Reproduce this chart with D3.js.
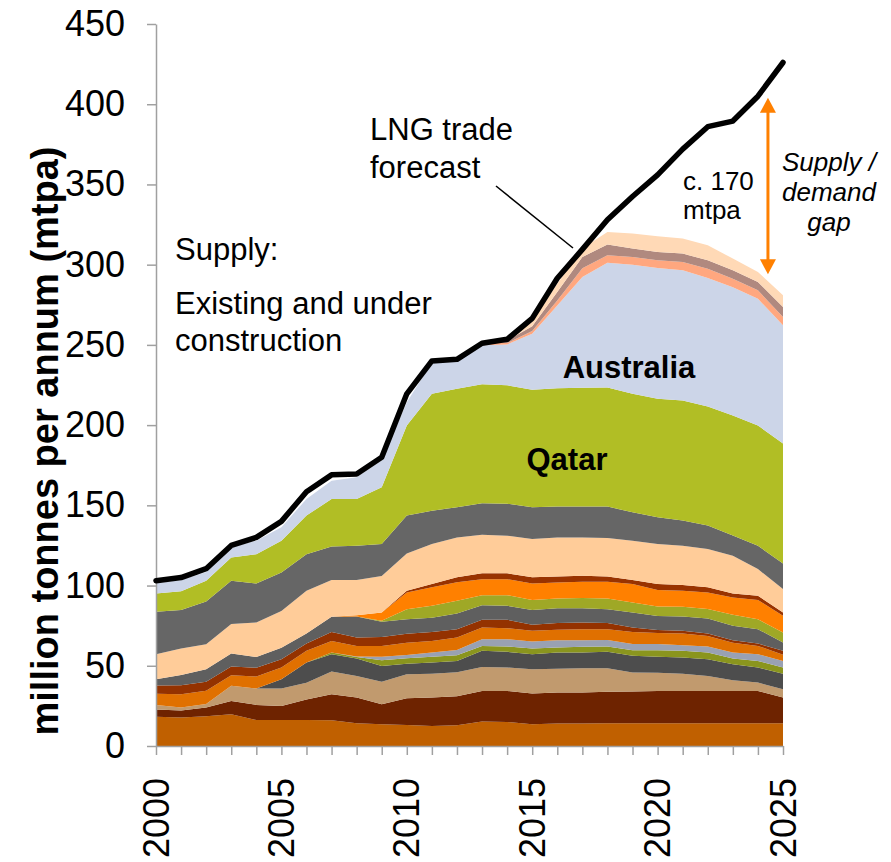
<!DOCTYPE html>
<html>
<head>
<meta charset="utf-8">
<script src="https://cdn.jsdelivr.net/npm/d3@7"></script>
<style>
  body { margin: 0; background: #fff; }
  svg { display: block; font-family: "Liberation Sans", Arial, sans-serif; }
</style>
</head>
<body>
<svg id="chart" width="891" height="862"></svg>
<script>
// years on the x axis
const years = [2000, 2001, 2002, 2003, 2004, 2005, 2006, 2007, 2008, 2009, 2010, 2011, 2012,
  2013, 2014, 2015, 2016, 2017, 2018, 2019, 2020, 2021, 2022, 2023, 2024, 2025];
const yTicks = [0, 50, 100, 150, 200, 250, 300, 350, 400, 450];
const xLabels = [2000, 2005, 2010, 2015, 2020, 2025];

// supply layers, bottom to top (mtpa)
const layer01 = [18.3, 17.7, 18.5, 19.8, 16.2, 16.2, 16.2, 16.0, 14.2, 13.5, 13.1, 12.5, 13.0, 15.2, 15.0, 13.6, 14.0, 14.0, 14.2, 14.2, 14.2, 14.2, 14.2, 14.2, 14.2, 14.2];
const layer02 = [4.4, 4.5, 5.5, 8.3, 9.4, 8.8, 12.8, 16.2, 16.0, 12.5, 16.6, 17.7, 18.0, 19.1, 19.3, 19.1, 19.4, 19.4, 19.6, 19.8, 20.1, 20.1, 20.1, 20.1, 20.1, 16.0];
const layer03 = [2.9, 1.8, 2.1, 9.4, 10.2, 10.8, 10.4, 14.2, 13.5, 14.0, 15.0, 14.9, 14.9, 15.0, 14.6, 15.1, 14.7, 15.1, 14.7, 11.8, 11.3, 10.8, 9.4, 6.7, 5.2, 5.1];
const layer04 = [0, 0, 0, 0, 0, 5.8, 12.6, 10.8, 10.8, 9.9, 6.6, 6.9, 7.1, 10.0, 9.8, 9.4, 10.1, 9.7, 10.2, 10.4, 10.0, 10.0, 10.3, 10.0, 9.4, 9.8];
const layer05 = [0, 0, 0, 0, 0, 0, 0, 1.0, 1.0, 3.6, 3.4, 3.6, 3.6, 3.1, 3.3, 3.5, 3.2, 3.6, 3.3, 3.5, 4.1, 4.2, 4.2, 3.5, 4.1, 3.8];
const layer06 = [0, 0, 0, 0, 0, 0, 0, 0, 0.3, 2.1, 2.0, 2.7, 3.3, 4.2, 4.6, 4.4, 4.5, 4.1, 4.0, 3.8, 3.8, 3.5, 3.8, 3.7, 4.2, 4.1];
const layer07 = [7.0, 8.3, 8.3, 6.6, 7.5, 7.3, 7.3, 7.3, 6.6, 6.8, 7.7, 7.2, 7.7, 7.2, 6.8, 6.7, 6.5, 6.9, 6.8, 7.6, 7.0, 7.3, 6.6, 6.2, 5.2, 3.8];
const layer08 = [5.1, 5.6, 5.7, 5.5, 5.5, 5.1, 4.6, 5.6, 5.2, 5.6, 5.6, 5.6, 5.2, 4.9, 5.3, 3.7, 4.2, 4.2, 3.8, 2.7, 1.8, 1.7, 1.5, 1.5, 1.5, 2.5];
const layer09 = [3.9, 6.4, 7.8, 8.1, 6.7, 7.3, 6.2, 9.4, 13.1, 9.4, 9.0, 8.9, 9.8, 9.1, 8.7, 9.2, 9.3, 8.9, 8.7, 9.4, 8.8, 8.9, 9.4, 9.0, 8.9, 5.2];
const layer10 = [0, 0, 0, 0, 0, 0, 0, 0, 0, 0.6, 6.3, 7.4, 7.9, 6.2, 6.6, 6.3, 6.1, 6.3, 6.7, 6.3, 5.9, 6.1, 5.9, 6.9, 6.2, 6.3];
const layer11 = [0, 0, 0, 0, 0, 0, 0, 0, 0.8, 5.2, 10.4, 11.5, 11.5, 10.0, 10.0, 10.3, 9.9, 10.1, 10.3, 11.4, 10.2, 9.9, 10.3, 10.8, 12.0, 10.4];
const layer12 = [0, 0, 0, 0, 0, 0, 0, 0, 0, 0, 1.0, 2.1, 3.1, 3.6, 3.6, 3.8, 3.8, 3.8, 3.4, 2.5, 3.7, 3.6, 3.2, 2.5, 2.6, 2.0];
const layer13 = [15.6, 16.4, 15.5, 18.3, 21.5, 22.9, 26.7, 22.9, 21.9, 22.8, 23.3, 24.9, 24.9, 24.1, 23.5, 23.9, 24.3, 23.9, 23.9, 24.6, 25.0, 24.5, 23.9, 23.5, 16.7, 14.6];
const layer14 = [26.4, 24.0, 26.6, 27.0, 24.3, 24.0, 22.7, 21.0, 21.4, 19.9, 23.6, 20.8, 18.8, 19.6, 19.9, 19.8, 19.2, 19.2, 19.6, 17.7, 16.7, 15.7, 14.6, 12.6, 14.5, 16.0];
const qatar = [11.5, 11.7, 13.0, 14.5, 18.2, 19.8, 24.1, 29.6, 29.2, 35.4, 56.2, 72.8, 73.8, 74.2, 73.8, 73.2, 73.8, 74.1, 74.3, 73.8, 73.8, 74.9, 74.2, 74.8, 75.0, 74.7];
const australia = [6.4, 7.1, 5.5, 6.3, 8.5, 8.3, 10.4, 11.4, 13.5, 16.7, 14.5, 19.5, 18.1, 24.2, 25.5, 35.0, 51.6, 69.0, 77.7, 80.5, 81.6, 81.1, 80.1, 80.0, 79.0, 73.7];
const layer17 = [0, 0, 0, 0, 0, 0, 0, 0, 0, 0, 0, 0, 1.7, 2.0, 0.8, 1.7, 3.1, 5.5, 4.7, 4.8, 4.7, 5.2, 5.8, 5.3, 5.2, 5.2];
const layer18 = [0, 0, 0, 0, 0, 0, 0, 0, 0, 0, 0, 0, 0, 0.3, 1.7, 2.9, 5.2, 7.0, 6.6, 5.2, 5.2, 5.2, 5.2, 5.2, 5.2, 6.2];
const layer19 = [0, 0, 0, 0, 0, 0, 0, 0, 0, 0, 0, 0, 0, 0.5, 0.8, 2.7, 5.2, 5.5, 7.9, 9.4, 9.8, 9.4, 9.4, 7.3, 6.3, 7.3];

// LNG trade forecast (demand line)
const lngTrade = [103, 105, 110.5, 125, 130, 140, 158.5, 169, 169.5, 180, 219.5, 240, 241, 251, 253.5,
  266.5, 291.5, 309.5, 328, 342.5, 356, 372, 386, 389.5, 405, 426];

// supply / demand gap arrow
const gapYear = 2024.4;
const gapTop = 404;
const gapBottom = 294;

const layers = [
  { key: 'layer01', values: layer01, color: '#C06000' },
  { key: 'layer02', values: layer02, color: '#6E2300' },
  { key: 'layer03', values: layer03, color: '#C19A6E' },
  { key: 'layer04', values: layer04, color: '#4D4D4D' },
  { key: 'layer05', values: layer05, color: '#8A951E' },
  { key: 'layer06', values: layer06, color: '#99A1B3' },
  { key: 'layer07', values: layer07, color: '#E07000' },
  { key: 'layer08', values: layer08, color: '#943200' },
  { key: 'layer09', values: layer09, color: '#5F5F5F' },
  { key: 'layer10', values: layer10, color: '#9FA826' },
  { key: 'layer11', values: layer11, color: '#FF8000' },
  { key: 'layer12', values: layer12, color: '#993300' },
  { key: 'layer13', values: layer13, color: '#FFCC99' },
  { key: 'layer14', values: layer14, color: '#666666' },
  { key: 'qatar', values: qatar, color: '#B1BE25' },
  { key: 'australia', values: australia, color: '#CCD5E8' },
  { key: 'layer17', values: layer17, color: '#FFA77F' },
  { key: 'layer18', values: layer18, color: '#B0897F' },
  { key: 'layer19', values: layer19, color: '#FFD9B6' }
];

const W = 891, H = 862;
const margin = { top: 24, right: 108, bottom: 116, left: 156 };

const svg = d3.select('#chart');

const x = d3.scaleLinear()
  .domain([2000, 2025])
  .range([margin.left, W - margin.right]);

const y = d3.scaleLinear()
  .domain([0, 450])
  .range([H - margin.bottom, margin.top]);

const rows = years.map(function (yr, i) {
  const r = { year: yr };
  layers.forEach(function (l) { r[l.key] = l.values[i]; });
  return r;
});

const series = d3.stack().keys(layers.map(l => l.key))(rows);

const area = d3.area()
  .x(d => x(d.data.year))
  .y0(d => y(d[0]))
  .y1(d => y(d[1]));

svg.append('g')
  .selectAll('path')
  .data(series)
  .enter().append('path')
  .attr('d', area)
  .attr('fill', (d, i) => layers[i].color);

// axes
const axisColor = '#A0A0A0';

const yAxis = svg.append('g')
  .attr('transform', 'translate(' + margin.left + ',0)')
  .call(d3.axisLeft(y).tickValues(yTicks).tickSize(9).tickSizeOuter(0).tickPadding(22));
yAxis.select('.domain').attr('stroke', axisColor).attr('stroke-width', 1.5);
yAxis.selectAll('.tick line').attr('stroke', axisColor).attr('stroke-width', 1.5);
yAxis.selectAll('text')
  .attr('font-size', 36)
  .attr('font-family', '"Liberation Sans", Arial, sans-serif')
  .attr('fill', '#000');

const xAxis = svg.append('g')
  .attr('transform', 'translate(0,' + (H - margin.bottom) + ')')
  .call(d3.axisBottom(x).tickValues(years).tickSize(9).tickSizeOuter(0).tickFormat(''));
xAxis.select('.domain').attr('stroke', axisColor).attr('stroke-width', 1.5);
xAxis.selectAll('.tick line').attr('stroke', axisColor).attr('stroke-width', 1.5);

svg.append('g')
  .selectAll('text')
  .data(xLabels)
  .enter().append('text')
  .attr('transform', d => 'translate(' + x(d) + ',' + (H - margin.bottom + 32) + ') rotate(-90)')
  .attr('text-anchor', 'end')
  .attr('dy', '0.35em')
  .attr('font-size', 36)
  .text(d => d);

svg.append('text')
  .attr('transform', 'translate(45,' + 441 + ') rotate(-90)')
  .attr('text-anchor', 'middle')
  .attr('dy', '0.35em')
  .attr('font-size', 38)
  .attr('font-weight', 'bold')
  .text('million tonnes per annum (mtpa)');

// LNG trade line
const line = d3.line()
  .x((d, i) => x(years[i]))
  .y(d => y(d));

svg.append('path')
  .datum(lngTrade)
  .attr('d', line)
  .attr('fill', 'none')
  .attr('stroke', '#000')
  .attr('stroke-width', 5.5)
  .attr('stroke-linejoin', 'round')
  .attr('stroke-linecap', 'round');

// leader line for the forecast label
svg.append('line')
  .attr('x1', 496).attr('y1', 186)
  .attr('x2', 573).attr('y2', 248)
  .attr('stroke', '#000')
  .attr('stroke-width', 1.5);

// gap arrow
const ax = x(gapYear), ay1 = y(gapTop), ay2 = y(gapBottom);
const orange = '#FF8000';
svg.append('line')
  .attr('x1', ax).attr('x2', ax)
  .attr('y1', ay1 + 10).attr('y2', ay2 - 10)
  .attr('stroke', orange)
  .attr('stroke-width', 3);
svg.append('path')
  .attr('d', 'M' + ax + ',' + ay1 + 'L' + (ax - 8) + ',' + (ay1 + 15) + 'L' + (ax + 8) + ',' + (ay1 + 15) + 'Z')
  .attr('fill', orange);
svg.append('path')
  .attr('d', 'M' + ax + ',' + ay2 + 'L' + (ax - 8) + ',' + (ay2 - 15) + 'L' + (ax + 8) + ',' + (ay2 - 15) + 'Z')
  .attr('fill', orange);

// annotations
function label(txt, px, py, size, opts) {
  const t = svg.append('text')
    .attr('x', px).attr('y', py)
    .attr('font-size', size)
    .attr('fill', '#000')
    .text(txt);
  if (opts && opts.bold) t.attr('font-weight', 'bold');
  if (opts && opts.italic) t.attr('font-style', 'italic');
  if (opts && opts.anchor) t.attr('text-anchor', opts.anchor);
  return t;
}

label('LNG trade', 370, 140, 31);
label('forecast', 370, 178, 31);
label('Supply:', 175, 260, 31);
label('Existing and under', 175, 314, 31);
label('construction', 175, 351, 31);
label('Australia', 629, 378, 31, { bold: true, anchor: 'middle' });
label('Qatar', 567, 470, 31, { bold: true, anchor: 'middle' });
label('c. 170', 683, 190, 26);
label('mtpa', 683, 219, 26);
label('Supply /', 829, 171, 26, { italic: true, anchor: 'middle' });
label('demand', 829, 201, 26, { italic: true, anchor: 'middle' });
label('gap', 829, 231, 26, { italic: true, anchor: 'middle' });
</script>
</body>
</html>
